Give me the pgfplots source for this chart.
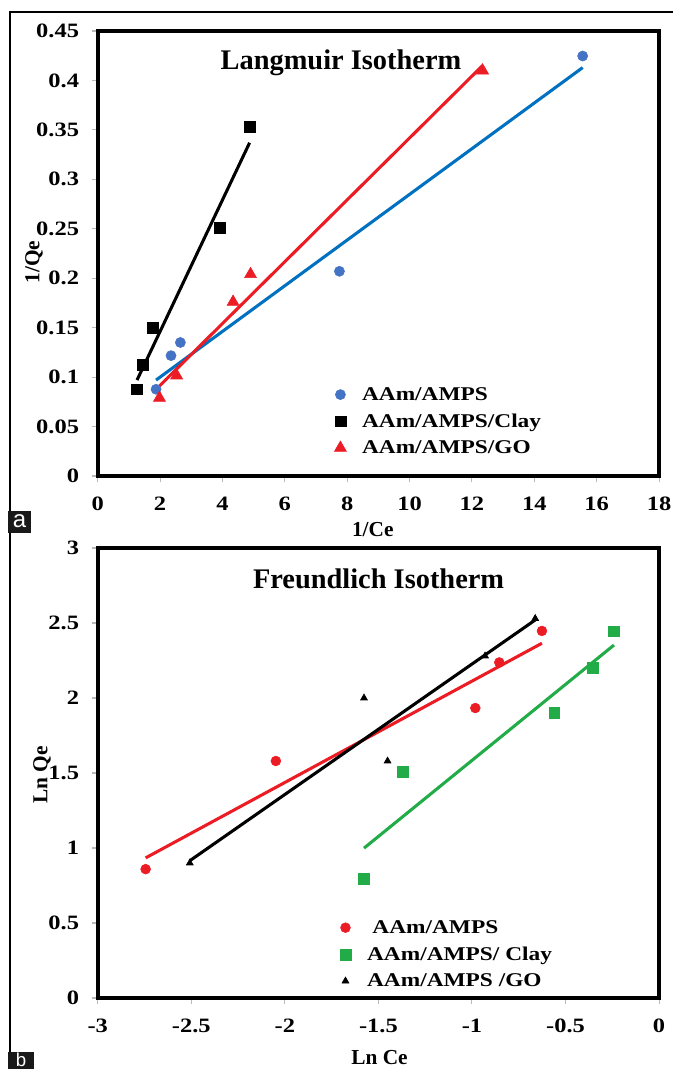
\documentclass[border=0pt]{standalone}
\usepackage{fontspec}
\setmainfont{Liberation Serif}
\newfontfamily\widefont[FakeStretch=1.2]{Liberation Serif}
\newfontfamily\panelfont{Liberation Sans}
\usepackage{pgfplots}
\pgfplotsset{compat=1.18}

\definecolor{ptblue}{RGB}{68,114,196}
\definecolor{lnblue}{RGB}{0,112,192}
\definecolor{ptred}{RGB}{236,28,36}
\definecolor{ptgreen}{RGB}{34,172,72}
\definecolor{tickgray}{RGB}{185,185,185}

\pgfplotsset{
  isoaxis/.style={
    scale only axis,
    axis line style={line width=2.8pt, black},
    tick align=outside,
    xtick pos=bottom, ytick pos=left,
    major tick style={tickgray, line width=0.8pt},
    major tick length=4.5pt,
    /pgf/number format/assume math mode=true,
    ticklabel style={font=\widefont\bfseries\fontsize{15.3}{16}\selectfont},
    xticklabel style={yshift=-7.5pt},
    yticklabel style={xshift=-6pt},
    label style={font=\bfseries\fontsize{16}{18}\selectfont},
    legend style={draw=none, fill=none, inner sep=0pt,
      font=\widefont\bfseries\fontsize{14.6}{16}\selectfont,
      row sep=4.6pt, column sep=9.2pt},
    legend cell align=left,
    legend image code/.code={%
      \path[draw=none, fill=none] (-5pt,-5pt) rectangle (5pt,5pt);
      \draw[##1] plot coordinates {(0pt,0pt)};},
    fitline/.style={line width=2.3pt, forget plot},
  },
}

\begin{document}
\begin{tikzpicture}
\path[use as bounding box] (0pt,0pt) rectangle (504pt,801.75pt);

% panel frame and panel tags
\draw[line width=1.4pt] (7.7pt,-2pt) -- (7.7pt,792.5pt) -- (506pt,792.5pt);
\fill[black!90] (6pt,402pt) rectangle (23.25pt,418.5pt);
\node[white, font=\panelfont\fontsize{18}{18}\selectfont] at (14.6pt,410.5pt) {a};
\fill[black!90] (6pt,-2pt) rectangle (25.5pt,12.75pt);
\node[white, anchor=base, inner sep=0pt, font=\panelfont\fontsize{14}{14}\selectfont] at (15.75pt,1.6pt) {b};

% (a) Langmuir isotherm
\begin{axis}[isoaxis,
  at={(73.3pt,444.75pt)}, anchor=south west,
  width=421pt, height=333.75pt,
  xmin=0, xmax=18, ymin=0, ymax=0.45,
  xtick={0,2,4,6,8,10,12,14,16,18},
  ytick={0,0.05,0.1,0.15,0.2,0.25,0.3,0.35,0.4,0.45},
  yticklabels={0,0.05,0.1,0.15,0.2,0.25,0.3,0.35,0.4,0.45},
  xlabel={1/Ce}, ylabel={1/Qe},
  xlabel style={at={(axis description cs:0.49,-0.121)}, anchor=center},
  ylabel style={at={(axis description cs:-0.1135,0.481)}, anchor=center},
  legend style={at={(axis cs:7.56,0.0928)}, anchor=north west},
]
\addplot[only marks, mark=*, mark size=3.8pt, color=ptblue]
  coordinates {(1.87,0.0877) (2.35,0.1217) (2.65,0.135) (7.75,0.207) (15.55,0.4247)};
\addlegendentry{AAm/AMPS}
\addplot[only marks, mark=square*, mark size=4.1pt, color=black]
  coordinates {(1.26,0.0877) (1.43,0.112) (1.77,0.150) (3.92,0.251) (4.87,0.3535)};
\addlegendentry{AAm/AMPS/Clay}
\addplot[only marks, mark=triangle*, mark size=5.2pt, color=ptred]
  coordinates {(1.98,0.079) (2.53,0.1016) (4.34,0.176) (4.9,0.204) (12.34,0.410)};
\addlegendentry{AAm/AMPS/GO}
% linear fits
\addplot[fitline, lnblue] coordinates {(1.87,0.097) (15.55,0.413)};
\addplot[fitline, black] coordinates {(1.26,0.097) (4.87,0.337)};
\addplot[fitline, ptred] coordinates {(1.98,0.091) (12.34,0.415)};
\node[font=\bfseries\fontsize{21.3}{24}\selectfont] at (axis cs:7.8,0.418) {Langmuir Isotherm};
\end{axis}

% (b) Freundlich isotherm
\begin{axis}[isoaxis,
  at={(73.3pt,53.25pt)}, anchor=south west,
  width=421pt, height=337.5pt,
  xmin=-3, xmax=0, ymin=0, ymax=3,
  xtick={-3,-2.5,-2,-1.5,-1,-0.5,0},
  ytick={0,0.5,1,1.5,2,2.5,3},
  xlabel={Ln Ce}, ylabel={Ln Qe},
  xlabel style={at={(axis description cs:0.502,-0.132)}, anchor=center},
  ylabel style={at={(axis description cs:-0.099,0.496)}, anchor=center},
  legend style={at={(axis cs:-1.713,0.538)}, anchor=north west},
]
\addplot[only marks, mark=*, mark size=3.7pt, color=ptred]
  coordinates {(-2.744,0.859) (-2.048,1.58) (-0.982,1.933) (-0.854,2.237) (-0.626,2.447)};
\addlegendentry{\hspace{4pt}AAm/AMPS}
\addplot[only marks, mark=square*, mark size=4.1pt, color=ptgreen]
  coordinates {(-1.577,0.794) (-1.369,1.506) (-0.56,1.903) (-0.352,2.199) (-0.241,2.445)};
\addlegendentry{AAm/AMPS/ Clay}
\addplot[only marks, mark=triangle*, mark size=3pt, color=black]
  coordinates {(-2.508,0.9) (-1.577,2.0) (-1.451,1.58) (-0.93,2.28) (-0.662,2.53)};
\addlegendentry{AAm/AMPS /GO}
% linear fits
\addplot[fitline, ptred] coordinates {(-2.744,0.934) (-0.626,2.365)};
\addplot[fitline, ptgreen] coordinates {(-1.577,0.999) (-0.241,2.353)};
\addplot[fitline, black] coordinates {(-2.508,0.915) (-0.662,2.52)};
\node[font=\bfseries\fontsize{21.3}{24}\selectfont] at (axis cs:-1.499,2.793) {Freundlich Isotherm};
\end{axis}
\end{tikzpicture}
\end{document}
